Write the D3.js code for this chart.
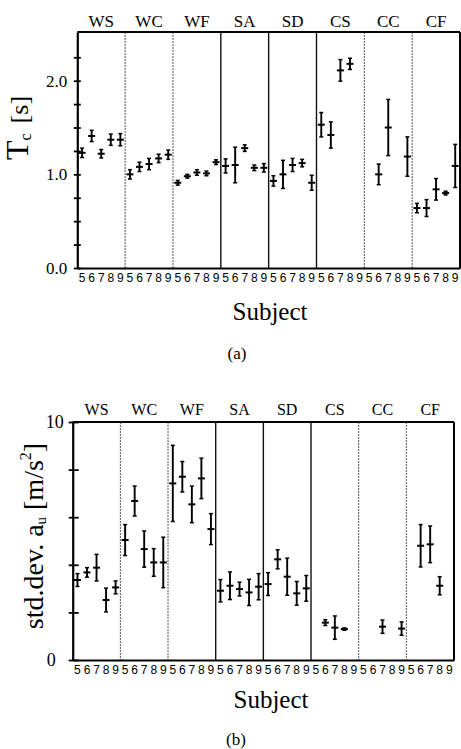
<!DOCTYPE html>
<html><head><meta charset="utf-8">
<script src="https://cdn.jsdelivr.net/npm/d3@7"></script>
<style>
body{margin:0;background:#fff} svg{display:block}
.serif{font-family:"Liberation Serif","DejaVu Serif","Noto Serif","Times New Roman",Times,serif}
.sans{font-family:"Liberation Sans",Arial,"DejaVu Sans",sans-serif}
</style>
</head><body>
<script>
// ---------- data ----------
const groups = ["WS","WC","WF","SA","SD","CS","CC","CF"];
const subjects = ["5","6","7","8","9"];

// (a) Tc [s] : mean and error half-length per group x subject
const tcMean = [
  [1.23,1.41,1.22,1.37,1.37],
  [1.00,1.08,1.11,1.17,1.21],
  [0.91,0.98,1.02,1.01,1.13],
  [1.09,1.10,1.28,1.07,1.07],
  [0.93,1.00,1.10,1.12,0.91],
  [1.53,1.42,2.11,2.18,null],
  [null,1.00,1.50,null,1.19],
  [0.64,0.64,0.84,0.80,1.09]
];
const tcErr = [
  [0.05,0.06,0.045,0.06,0.065],
  [0.05,0.05,0.06,0.045,0.05],
  [0.025,0.02,0.03,0.025,0.025],
  [0.075,0.19,0.035,0.03,0.045],
  [0.055,0.15,0.07,0.04,0.08],
  [0.13,0.14,0.115,0.06,null],
  [null,0.11,0.30,null,0.21],
  [0.05,0.09,0.115,0.02,0.23]
];

// (b) std.dev. a_u [m/s^2]
const sdMean = [
  [3.36,3.68,3.88,2.52,3.05],
  [5.04,6.68,4.66,4.10,4.10],
  [7.42,7.70,6.54,7.63,5.50],
  [2.91,3.12,2.98,2.84,3.08],
  [3.19,4.23,3.50,2.80,3.01],
  [null,1.57,1.36,1.30,null],
  [null,null,1.40,null,1.32],
  [null,4.80,4.86,3.12,null]
];
const sdErr = [
  [0.27,0.20,0.56,0.50,0.27],
  [0.65,0.63,0.76,0.58,1.06],
  [1.60,0.64,0.77,0.85,0.65],
  [0.47,0.58,0.29,0.55,0.55],
  [0.48,0.40,0.78,0.50,0.54],
  [null,0.12,0.49,0.05,null],
  [null,null,0.28,null,0.28],
  [null,0.89,0.77,0.38,null]
];

const tcTicks = [0,0.25,0.5,0.75,1,1.25,1.5,1.75,2,2.25];
const tcLabeled = [0,1,2];
const sdTicks = [0,2,4,6,8,10];
const sdLabeled = [0,10];
const separatorKinds = ["dot","dot","solid","solid","solid","dot","dot"];

// ---------- drawing ----------
const W = 461, H = 749;
const svg = d3.select("body").append("svg").attr("width", W).attr("height", H);

function drawPanel(cfg) {
  const g = svg.append("g");
  const x0 = cfg.x0, x1 = cfg.x1, yT = cfg.yTop, yB = cfg.yBot;
  const xg = d3.scaleBand().domain(groups).range([x0, x1]);
  const keys = groups.flatMap(gr => subjects.map(s => gr + "|" + s));
  const xs = d3.scaleBand().domain(keys).range([x0, x1]);
  const y = d3.scaleLinear().domain(cfg.domain).range([yB, yT]);

  // separators
  groups.slice(1).forEach((gr, i) => {
    const xx = xg(gr);
    g.append("line").attr("x1", xx).attr("x2", xx).attr("y1", yT).attr("y2", yB)
      .attr("stroke", separatorKinds[i] === "solid" ? "#111" : "#555")
      .attr("stroke-width", separatorKinds[i] === "solid" ? 1.4 : 1)
      .attr("stroke-dasharray", separatorKinds[i] === "solid" ? null : "2,1");
  });

  // frame top / right
  g.append("line").attr("x1", x0).attr("x2", x1).attr("y1", yT).attr("y2", yT).attr("stroke", "#000").attr("stroke-width", 2);
  g.append("line").attr("x1", x1).attr("x2", x1).attr("y1", yT).attr("y2", yB).attr("stroke", "#000").attr("stroke-width", 2);

  // x axis with subject digits
  const xa = g.append("g").attr("transform", `translate(0,${yB})`)
    .call(d3.axisBottom(xs).tickSize(0).tickSizeOuter(0).tickPadding(cfg.digitPad).tickFormat(d => d.split("|")[1]));
  xa.attr("font-family", null);
  xa.select(".domain").attr("stroke", "#000").attr("stroke-width", 2);
  xa.selectAll("text").attr("class", "sans").attr("font-size", 12).attr("fill", "#000");

  // y axis with cross ticks
  const ya = g.append("g").attr("transform", `translate(${x0},0)`)
    .call(d3.axisLeft(y).tickValues(cfg.ticks).tickSizeInner(cfg.tickLen).tickSizeOuter(0)
      .tickPadding(cfg.labelPad)
      .tickFormat(d => cfg.labeled.includes(d) ? cfg.fmt(d) : ""));
  ya.attr("font-family", null);
  ya.select(".domain").attr("stroke", "#000").attr("stroke-width", 2.2);
  ya.selectAll(".tick line").attr("x1", cfg.tickRight).attr("stroke-width", 1.8);
  ya.selectAll(".tick text").attr("class", "serif").attr("font-size", cfg.labelSize).attr("fill", "#000");
  if (cfg.zeroShift) ya.selectAll(".tick text").filter(d => d === 0).attr("dx", cfg.zeroShift);

  // group labels
  g.selectAll(".glab").data(groups).enter().append("text").attr("class", "serif")
    .attr("x", d => xg(d) + xg.bandwidth() / 2).attr("y", cfg.groupY)
    .attr("text-anchor", "middle").attr("font-size", cfg.groupSize)
    .text(d => d);

  // error bars
  const pts = [];
  groups.forEach((gr, gi) => subjects.forEach((s, si) => {
    const m = cfg.mean[gi][si];
    if (m !== null) pts.push({ k: gr + "|" + s, m, e: cfg.err[gi][si] });
  }));
  const pg = g.selectAll(".pt").data(pts).enter().append("g")
    .attr("transform", d => `translate(${xs(d.k) + xs.bandwidth() / 2},0)`);
  pg.append("line").attr("x1", 0).attr("x2", 0).attr("y1", d => y(d.m - d.e)).attr("y2", d => y(d.m + d.e))
    .attr("stroke", "#000").attr("stroke-width", 1.9);
  pg.append("line").attr("x1", -2).attr("x2", 2).attr("y1", d => y(d.m - d.e)).attr("y2", d => y(d.m - d.e))
    .attr("stroke", "#000").attr("stroke-width", 1.5);
  pg.append("line").attr("x1", -2).attr("x2", 2).attr("y1", d => y(d.m + d.e)).attr("y2", d => y(d.m + d.e))
    .attr("stroke", "#000").attr("stroke-width", 1.5);
  pg.append("line").attr("x1", -3.5).attr("x2", 3.5).attr("y1", d => y(d.m)).attr("y2", d => y(d.m))
    .attr("stroke", "#000").attr("stroke-width", 2);

  // x title and caption
  g.append("text").attr("class", "serif").attr("x", cfg.subjX).attr("y", cfg.subjY).attr("text-anchor", "middle")
    .attr("font-size", 25).text("Subject");
  g.append("text").attr("class", "serif").attr("x", cfg.capX).attr("y", cfg.capY).attr("text-anchor", "middle")
    .attr("font-size", 17).text(cfg.caption);
  return g;
}

drawPanel({
  x0: 77.3, x1: 460, yTop: 32, yBot: 268, domain: [0, 2.52],
  mean: tcMean, err: tcErr, ticks: tcTicks, labeled: tcLabeled, fmt: d3.format(".1f"),
  tickLen: 3.5, tickRight: 3.5, labelPad: 6.5, labelSize: 17,
  groupY: 27, groupSize: 17, digitPad: 5,
  subjX: 270, subjY: 320, capX: 237, capY: 359, caption: "(a)"
});

drawPanel({
  x0: 72.7, x1: 454, yTop: 422, yBot: 660, domain: [0, 10],
  mean: sdMean, err: sdErr, ticks: sdTicks, labeled: sdLabeled, fmt: d3.format("d"),
  tickLen: 4, tickRight: 6, labelPad: 5, labelSize: 18, zeroShift: -8,
  groupY: 415, groupSize: 16, digitPad: 5,
  subjX: 271, subjY: 708, capX: 236, capY: 745, caption: "(b)"
});

// y titles
const t1 = svg.append("text").attr("class", "serif").attr("transform", "translate(28,128) rotate(-90)")
  .attr("text-anchor", "middle");
t1.append("tspan").attr("font-size", 32).text("T");
t1.append("tspan").attr("font-size", 16).attr("dy", 3).text("c");
t1.append("tspan").attr("font-size", 26).attr("dy", -3).attr("dx", 10).text("[s]");

const t2 = svg.append("text").attr("class", "serif").attr("transform", "translate(43,536) rotate(-90)")
  .attr("text-anchor", "middle").attr("font-size", 28);
t2.append("tspan").text("std.dev. a");
t2.append("tspan").attr("font-size", 15).attr("dy", 3).text("u");
t2.append("tspan").attr("dy", -3).text(" [m/s");
t2.append("tspan").attr("font-size", 16).attr("dy", -12).text("2");
t2.append("tspan").attr("dy", 12).text("]");
</script>
</body></html>
